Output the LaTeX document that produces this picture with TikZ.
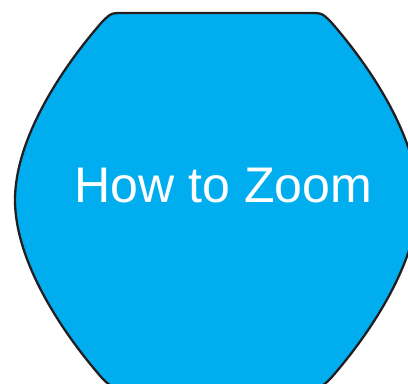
\documentclass[tikz,border=0pt]{standalone}
\usepackage{fontspec}
\setmainfont{Liberation Sans}
\usepackage{tikz}
\definecolor{zoomblue}{RGB}{0,174,239}
\definecolor{edgegray}{RGB}{35,31,32}
\tikzset{x=0.02cm, y=-0.02cm,
  blob/.style={fill=zoomblue, draw=edgegray, line width=1.3pt},
  title/.style={text=white, font=\fontsize{28.5}{34}\selectfont, anchor=base}}

\begin{document}
\begin{tikzpicture}
\clip (0,0) rectangle (408,383);
\fill[white] (0,0) rectangle (408,383);
\draw[blob] (124,13) -- (309,13) .. controls (322,13) .. (331,22)
  .. controls (373,70) and (418,140) .. (418,200)
  .. controls (418,260) and (373,330) .. (331,378)
  .. controls (322,387) .. (309,387) -- (124,387)
  .. controls (111,387) .. (102,378)
  .. controls (60,330) and (15,260) .. (15,200)
  .. controls (15,140) and (60,70) .. (102,22)
  .. controls (111,13) .. (124,13) -- cycle;
\node[title] (zoom) at (223.5,202) {How to Zoom};
\end{tikzpicture}
\end{document}
